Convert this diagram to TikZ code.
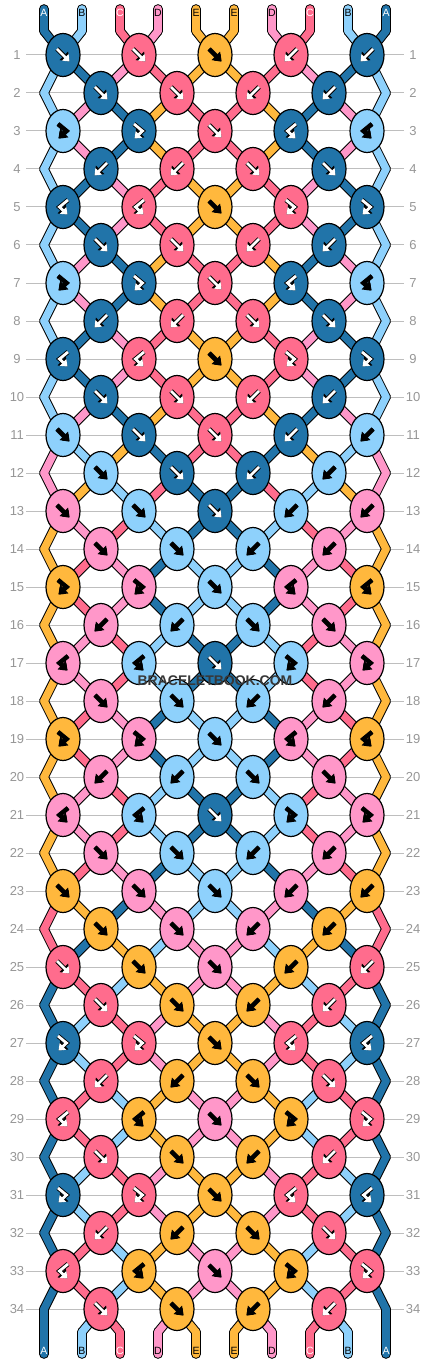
\documentclass[tikz,border=0pt]{standalone}
\usepackage{fontspec}
\setmainfont{Liberation Sans}
\usetikzlibrary{arrows.meta,shapes.geometric}

\definecolor{colA}{RGB}{33,116,169}
\definecolor{colB}{RGB}{142,209,252}
\definecolor{colC}{RGB}{255,108,141}
\definecolor{colD}{RGB}{255,151,201}
\definecolor{colE}{RGB}{255,184,61}
\colorlet{inkA}{white}
\colorlet{inkB}{black}
\colorlet{inkC}{white}
\colorlet{inkD}{black}
\colorlet{inkE}{black}
\definecolor{rowgray}{RGB}{190,190,190}
\definecolor{numgray}{RGB}{150,150,150}
\definecolor{markgray}{RGB}{55,55,55}

\tikzset{
  knot/.style={ellipse, draw=black, line width=1.2pt, minimum width=34pt, minimum height=43pt, inner sep=0pt},
  rim/.style={draw=black, line width=9.6pt, line cap=round},
  thread/.style={line width=7.6pt, line cap=round},
  rowline/.style={draw=rowgray, line width=1pt},
  rownum/.style={text=numgray, font=\fontsize{13}{13}\selectfont, inner sep=0pt},
  lab/.style={font=\fontsize{10.5}{10.5}\selectfont, inner sep=0pt},
  arw/.style={line width=2.8pt, -{Triangle[length=6pt,width=9pt]},
    preaction={draw=black, line width=4.6pt, -{Triangle[length=8pt,width=11.5pt]}}},
  % f forward, b backward, F forward-backward, B backward-forward
  knotf/.pic={\draw[arw, draw=ink\kc] (-6,-6) -- (6.5,6.5);},
  knotb/.pic={\draw[arw, draw=ink\kc] (6,-6) -- (-6.5,6.5);},
  knotF/.pic={\draw[arw, draw=ink\kc] (-5,-7) -- (3.5,0) -- (-4.5,7.5);},
  knotB/.pic={\draw[arw, draw=ink\kc] (5,-7) -- (-3.5,0) -- (4.5,7.5);},
}

\begin{document}
\begin{tikzpicture}[x=1pt,y=-1pt]
\useasboundingbox (0,0) rectangle (430,1364);

% threads at the top
\foreach \p/\col in {1/A,2/B,3/C,4/D,5/E,6/E,7/D,8/C,9/B,10/A}{
  \pgfmathsetmacro\x{44+38*(\p-1)}
  \expandafter\xdef\csname st\p\endcsname{\col}
  \coordinate (tip\p) at (\x,9);
  \coordinate (s0-\p) at (\x,31);
}

% the knots, row by row: where the threads sit, which one is on top
\foreach \r/\kk in {
  1/{f,f,f,b,b}, 2/{f,f,b,b}, 3/{F,F,f,B,B}, 4/{b,b,f,f},
  5/{B,B,f,F,F}, 6/{f,f,b,b}, 7/{F,F,f,B,B}, 8/{b,b,f,f},
  9/{B,B,f,F,F}, 10/{f,f,b,b}, 11/{f,f,f,b,b}, 12/{f,f,b,b},
  13/{f,f,f,b,b}, 14/{f,f,b,b}, 15/{F,F,f,B,B}, 16/{b,b,f,f},
  17/{B,B,f,F,F}, 18/{f,f,b,b}, 19/{F,F,f,B,B}, 20/{b,b,f,f},
  21/{B,B,f,F,F}, 22/{f,f,b,b}, 23/{f,f,f,b,b}, 24/{f,f,b,b},
  25/{f,f,f,b,b}, 26/{f,f,b,b}, 27/{F,F,f,B,B}, 28/{b,b,f,f},
  29/{B,B,f,F,F}, 30/{f,f,b,b}, 31/{F,F,f,B,B}, 32/{b,b,f,f},
  33/{B,B,f,F,F}, 34/{f,f,b,b}}{
  \pgfmathsetmacro\y{55+38*(\r-1)}
  \foreach \p in {1,...,10}{
    \pgfmathtruncatemacro\q{isodd(\r) ? \p-1+mod(\p,2) : \p-mod(\p,2)}
    \pgfmathsetmacro\x{(\q==0 || \q==10) ? 44+38*(\p-1) : 63+38*(\q-1)}
    \coordinate (s\r-\p) at (\x,\y);
    \expandafter\xdef\csname c\r-\p\endcsname{\csname st\p\endcsname}
  }
  \foreach \kt [count=\k] in \kk {
    \pgfmathtruncatemacro\q{isodd(\r) ? 2*\k-1 : 2*\k}
    \pgfmathtruncatemacro\qq{\q+1}
    \edef\lft{\csname st\q\endcsname}
    \edef\rgt{\csname st\qq\endcsname}
    \if\kt b\let\kc\rgt\else\if\kt B\let\kc\rgt\else\let\kc\lft\fi\fi
    \if\kt f\expandafter\xdef\csname st\q\endcsname{\rgt}\expandafter\xdef\csname st\qq\endcsname{\lft}\fi
    \if\kt b\expandafter\xdef\csname st\q\endcsname{\rgt}\expandafter\xdef\csname st\qq\endcsname{\lft}\fi
    \expandafter\xdef\csname kc\r-\k\endcsname{\kc}
    \expandafter\xdef\csname kt\r-\k\endcsname{\kt}
    \expandafter\xdef\csname kq\r-\k\endcsname{\q}
  }
}

% threads at the bottom
\foreach \p in {1,...,10}{
  \pgfmathsetmacro\x{44+38*(\p-1)}
  \expandafter\xdef\csname c35-\p\endcsname{\csname st\p\endcsname}
  \coordinate (s35-\p) at (\x,1332);
  \coordinate (end\p) at (\x,1354);
}

% row numbers and lines
\foreach \r in {1,...,34}{
  \pgfmathsetmacro\y{55+38*(\r-1)}
  \node[rownum] (nl\r) at (17,\y) {\r};
  \node[rownum] (nr\r) at (413,\y) {\r};
  \draw[rowline] (26,\y) -- (404,\y);
}

% the threads: black rim first, then colour
\foreach \p in {1,...,10}{
  \draw[rim] (tip\p) -- (s0-\p);
  \draw[rim] (s35-\p) -- (end\p);
}
\foreach \r in {1,...,35}{
  \pgfmathtruncatemacro\rr{\r-1}
  \foreach \p in {1,...,10}
    \draw[rim] (s\rr-\p) -- (s\r-\p);
}
\foreach \p in {1,...,10}{
  \edef\col{\csname c1-\p\endcsname}
  \draw[thread, draw=col\col] (tip\p) -- (s0-\p);
  \edef\col{\csname c35-\p\endcsname}
  \draw[thread, draw=col\col] (s35-\p) -- (end\p);
}
\foreach \r in {1,...,35}{
  \pgfmathtruncatemacro\rr{\r-1}
  \foreach \p in {1,...,10}{
    \edef\col{\csname c\r-\p\endcsname}
    \draw[thread, draw=col\col] (s\rr-\p) -- (s\r-\p);
  }
}

% knots
\foreach \r in {1,...,34}{
  \pgfmathtruncatemacro\n{isodd(\r) ? 5 : 4}
  \foreach \k in {1,...,\n}{
    \edef\kc{\csname kc\r-\k\endcsname}
    \edef\kt{\csname kt\r-\k\endcsname}
    \edef\q{\csname kq\r-\k\endcsname}
    \node[knot, fill=col\kc] (k\r-\k) at (s\r-\q) {};
    \pic at (k\r-\k) {knot\kt};
  }
}

% string letters
\foreach \p in {1,...,10}{
  \edef\col{\csname c1-\p\endcsname}
  \node[lab, text=ink\col] (top\p) at ([yshift=-4pt]tip\p) {\col};
  \edef\col{\csname c35-\p\endcsname}
  \node[lab, text=ink\col] (bot\p) at ([yshift=3pt]end\p) {\col};
}

\node[font=\bfseries\fontsize{14}{14}\selectfont, text=markgray] (mark) at (215,681) {BRACELETBOOK.COM};

\end{tikzpicture}
\end{document}
